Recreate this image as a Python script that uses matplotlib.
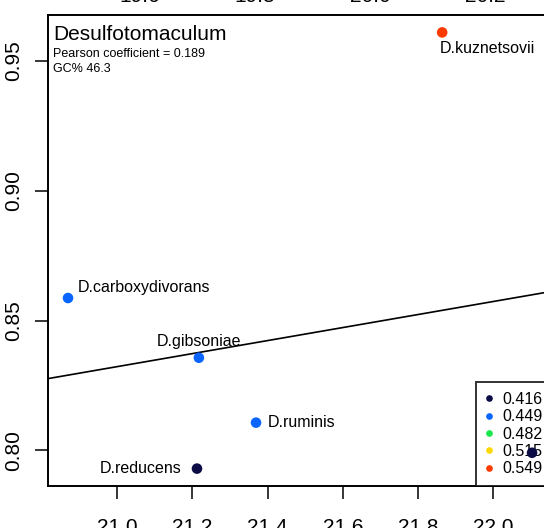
import numpy as np
import matplotlib
matplotlib.use("Agg")
import matplotlib.pyplot as plt
from matplotlib.lines import Line2D

plt.rcParams['font.family'] = ['Liberation Sans', 'DejaVu Sans']

# species values
names = ['D.kuznetsovii', 'D.carboxydivorans', 'D.gibsoniae', 'D.ruminis', 'D.reducens', '']
xval = [21.864, 20.869, 21.217, 21.369, 21.212, 22.103]
yval = [0.9610, 0.8587, 0.8357, 0.8107, 0.7930, 0.7991]
group = [4, 1, 1, 1, 0, 0]

# legend classes
breaks = ['0.416', '0.449', '0.482', '0.515', '0.549']
colours = ['#0b0b45', '#0a64ff', '#17e84a', '#ffd700', '#ff3a00']

# regression line
fit_slope, fit_icpt = 0.02508, 0.3056

genus = 'Desulfotomaculum'
pearson = 0.189
gc = 46.3

# neighbouring panel tick labels, cut off at the top
top_ticks = ['19.6', '19.8', '20.0', '20.2']

W, H = 544, 528
fig = plt.figure(figsize=(W/100, H/100), dpi=100)
ax = fig.add_axes([47.7/W, 42/H, (551.6-47.7)/W, (486-15)/H])

ax.scatter(xval, yval, s=58, c=[colours[g] for g in group], zorder=6, linewidths=0)
ax.axline((0, fit_icpt), slope=fit_slope, color='black', lw=1.2, zorder=2)

# label placement: (dx px, dy px, ha)
place = [(-2, -21, 'left'), (10, 6, 'left'), (0, 12, 'center'),
         (12, -4, 'left'), (-15, -4, 'right'), (10, -4, 'left')]
for n, x, y, (dx, dy, ha) in zip(names, xval, yval, place):
    if n:
        ax.annotate(n, (x, y), xytext=(dx*0.72, dy*0.72), textcoords='offset points',
                    ha=ha, va='baseline', fontsize=11.5)

ax.set_xlim(20.815, 22.155)
ax.set_ylim(0.7863, 0.9677)
ax.set_xticks([21.0, 21.2, 21.4, 21.6, 21.8, 22.0])
ax.set_xticklabels(['21.0', '21.2', '21.4', '21.6', '21.8', '22.0'])
ax.set_yticks([0.80, 0.85, 0.90, 0.95])
ax.set_yticklabels(['0.80', '0.85', '0.90', '0.95'], rotation=90, va='center')
ax.tick_params(direction='out', length=9.4, width=1.1, labelsize=15)
ax.tick_params(axis='x', pad=13.5)
ax.tick_params(axis='y', pad=8.6)
for s in ax.spines.values():
    s.set_linewidth(1.4)

fig.text(53/W, 1-40/H, genus, fontsize=15, va='baseline')
fig.text(53/W, 1-57/H, f'Pearson coefficient = {pearson}', fontsize=9, va='baseline')
fig.text(53/W, 1-72/H, f'GC% {gc}', fontsize=9, va='baseline')

for i, t in enumerate(top_ticks):
    fig.text((140 + 115*i)/W, 1-2.5/H, t, fontsize=15, ha='center', va='baseline')

handles = [Line2D([], [], ls='none', marker='o', ms=4.8, mfc=c, mec='none') for c in colours]
leg = ax.legend(handles, breaks, loc='lower left', bbox_to_anchor=(475.7/W, 42/H),
                bbox_transform=fig.transFigure, fontsize=11.5, frameon=True, fancybox=False,
                borderpad=0.6, handlelength=0.5, handletextpad=0.56, labelspacing=0.15,
                borderaxespad=0)
leg.set_zorder(5)
leg.get_frame().set_edgecolor('black')
leg.get_frame().set_linewidth(1.4)

fig.savefig('out.png', dpi=100)
